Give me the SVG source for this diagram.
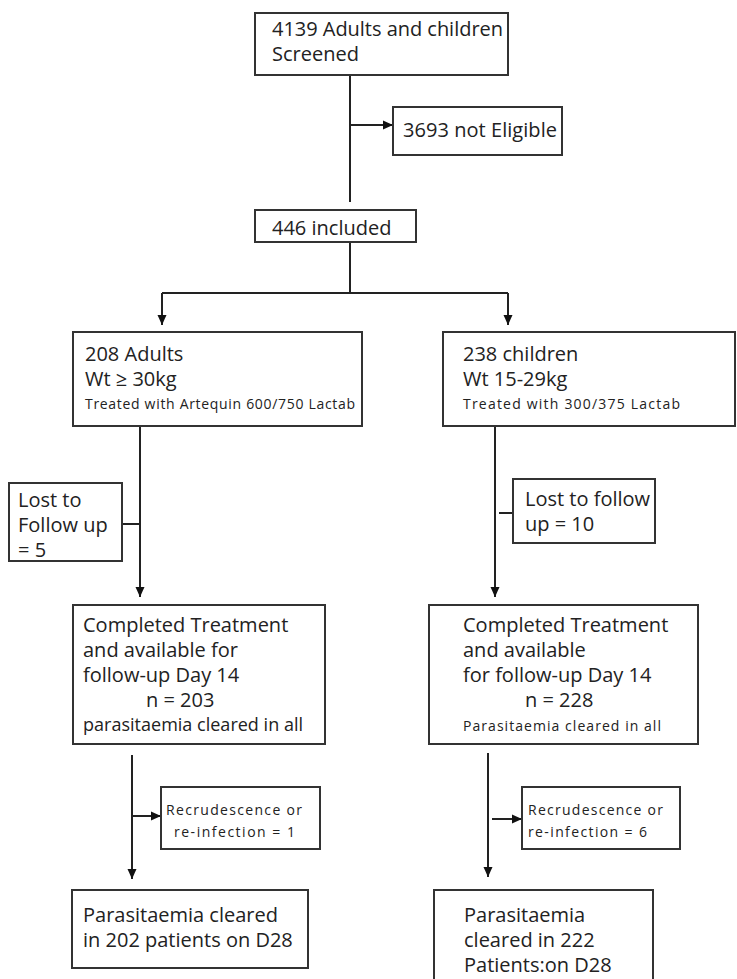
<svg xmlns="http://www.w3.org/2000/svg" width="737" height="979" viewBox="0 0 737 979">
<style>
.box{fill:#fff;stroke:#333;stroke-width:2}
.t{font-family:"Open Sans","Noto Sans",sans-serif;font-size:20px;fill:#222}
.m{font-family:"Open Sans","Noto Sans",sans-serif;font-size:18px;fill:#222}
.s{font-family:"Open Sans","Noto Sans",sans-serif;font-size:14px;fill:#222}
.c{fill:none;stroke:#222;stroke-width:2}
</style>
<defs>
<marker id="ah" markerUnits="userSpaceOnUse" markerWidth="10" markerHeight="10" refX="10" refY="5" orient="auto">
<path d="M0,0.5 L10,5 L0,9.5 z" fill="#111"/>
</marker>
</defs>
<rect width="737" height="979" fill="#fff"/>
<g id="connectors">
<path class="c" d="M350,75 V202"/>
<path class="c" d="M350,125 H393" marker-end="url(#ah)"/>
<path class="c" d="M350,242 V293"/>
<path class="c" d="M162,293 H508"/>
<path class="c" d="M162,293 V325" marker-end="url(#ah)"/>
<path class="c" d="M508,293 V325" marker-end="url(#ah)"/>
<path class="c" d="M140,426 V597" marker-end="url(#ah)"/>
<path class="c" d="M122,524 H140"/>
<path class="c" d="M495,426 V597" marker-end="url(#ah)"/>
<path class="c" d="M499,513 H513"/>
<path class="c" d="M132,755 V879" marker-end="url(#ah)"/>
<path class="c" d="M132,816 H161" marker-end="url(#ah)"/>
<path class="c" d="M488,753 V877" marker-end="url(#ah)"/>
<path class="c" d="M492,819 H522" marker-end="url(#ah)"/>
</g>
<g id="screened">
<rect class="box" x="255" y="13" width="253" height="62"/>
<text class="t" x="272" y="36" textLength="231">4139 Adults and children</text>
<text class="t" x="272" y="61">Screened</text>
</g>
<g id="not-eligible">
<rect class="box" x="393" y="107" width="169" height="48"/>
<text class="t" x="403" y="137" textLength="154">3693 not Eligible</text>
</g>
<g id="included">
<rect class="box" x="255" y="210" width="161" height="32"/>
<text class="t" x="272" y="235">446 included</text>
</g>
<g id="adults">
<rect class="box" x="73" y="332" width="289" height="94"/>
<text class="t" x="85" y="361">208 Adults</text>
<text class="t" x="85" y="386">Wt ≥ 30kg</text>
<text class="s" x="85" y="409" textLength="270">Treated with Artequin 600/750 Lactab</text>
</g>
<g id="children">
<rect class="box" x="443" y="332" width="292" height="94"/>
<text class="t" x="463" y="361">238 children</text>
<text class="t" x="463" y="386">Wt 15-29kg</text>
<text class="s" x="463" y="409" textLength="217">Treated with 300/375  Lactab</text>
</g>
<g id="lost-left">
<rect class="box" x="9" y="483" width="113" height="78"/>
<text class="t" x="18" y="507">Lost to</text>
<text class="t" x="18" y="532">Follow up</text>
<text class="t" x="18" y="557">= 5</text>
</g>
<g id="lost-right">
<rect class="box" x="513" y="479" width="142" height="64"/>
<text class="t" x="525" y="506">Lost to follow</text>
<text class="t" x="525" y="531">up = 10</text>
</g>
<g id="completed-left">
<rect class="box" x="73" y="605" width="252" height="139"/>
<text class="t" x="83" y="632">Completed Treatment</text>
<text class="t" x="83" y="657">and available for</text>
<text class="t" x="83" y="682">follow-up Day 14</text>
<text class="t" x="146" y="707">n = 203</text>
<text class="m" x="83" y="731" textLength="220">parasitaemia cleared in all</text>
</g>
<g id="completed-right">
<rect class="box" x="429" y="605" width="269" height="139"/>
<text class="t" x="463" y="632">Completed Treatment</text>
<text class="t" x="463" y="657">and available</text>
<text class="t" x="463" y="682">for follow-up Day 14</text>
<text class="t" x="525" y="707">n = 228</text>
<text class="s" x="463" y="731" textLength="198">Parasitaemia  cleared  in  all</text>
</g>
<g id="recrudescence-left">
<rect class="box" x="161" y="787" width="159" height="62"/>
<text class="s" x="166" y="815" textLength="136">Recrudescence or</text>
<text class="s" x="174" y="837" textLength="121">re-infection  = 1</text>
</g>
<g id="recrudescence-right">
<rect class="box" x="522" y="787" width="158" height="62"/>
<text class="s" x="528" y="815" textLength="135">Recrudescence or</text>
<text class="s" x="528" y="837" textLength="119">re-infection  = 6</text>
</g>
<g id="cleared-left">
<rect class="box" x="72" y="890" width="236" height="78"/>
<text class="t" x="83" y="922">Parasitaemia cleared</text>
<text class="t" x="83" y="947">in 202 patients on D28</text>
</g>
<g id="cleared-right">
<rect class="box" x="434" y="890" width="219" height="100"/>
<text class="t" x="464" y="922">Parasitaemia</text>
<text class="t" x="464" y="947">cleared in 222</text>
<text class="t" x="464" y="972">Patients:on  D28</text>
</g>
</svg>
